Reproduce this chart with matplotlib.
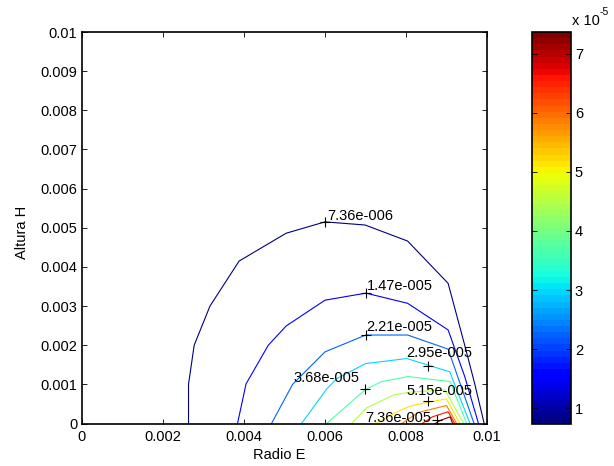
import numpy as np
import matplotlib
matplotlib.use('Agg')
import matplotlib.pyplot as plt
from matplotlib.colors import Normalize
from matplotlib.cm import ScalarMappable

plt.rcParams['font.family'] = ['Liberation Sans', 'DejaVu Sans']
plt.rcParams['font.size'] = 10.5

# contour levels (values of the field)
levels = [7.364e-6, 1.4728e-5, 2.2092e-5, 2.9456e-5, 3.682e-5,
          4.4184e-5, 5.1548e-5, 5.8912e-5, 6.6276e-5, 7.364e-5]

# contour polylines, in units of 1e-3 (Radio E, Altura H)
contour_x = [
    [2.63, 2.63, 2.77, 3.16, 3.88, 5.04, 6.00, 6.99, 8.04, 9.04, 9.46, 9.70, 9.93],
    [3.84, 4.05, 4.60, 5.04, 6.00, 7.01, 8.04, 9.04, 9.45, 9.79],
    [4.68, 5.20, 6.00, 7.01, 8.04, 9.04, 9.68],
    [5.42, 6.04, 6.30, 7.00, 8.02, 9.08, 9.58],
    [6.04, 7.00, 7.40, 8.05, 9.09, 9.50],
    [6.66, 7.03, 7.70, 8.10, 8.96, 9.42],
    [7.25, 7.90, 8.20, 9.00, 9.33],
    [7.90, 8.30, 9.00, 9.25],
    [8.40, 8.65, 9.04, 9.20],
    [8.72, 8.85, 9.09, 9.15],
]
contour_y = [
    [0.00, 1.00, 2.00, 3.00, 4.15, 4.86, 5.15, 5.07, 4.66, 3.58, 1.96, 1.00, 0.00],
    [0.00, 1.01, 2.00, 2.49, 3.15, 3.33, 3.07, 2.39, 1.20, 0.00],
    [0.00, 1.00, 1.83, 2.26, 2.26, 1.90, 0.00],
    [0.00, 0.88, 1.15, 1.53, 1.66, 1.32, 0.00],
    [0.00, 0.87, 1.07, 1.20, 1.07, 0.00],
    [0.00, 0.40, 0.73, 0.80, 0.86, 0.00],
    [0.00, 0.36, 0.47, 0.63, 0.00],
    [0.00, 0.28, 0.46, 0.00],
    [0.00, 0.17, 0.30, 0.00],
    [0.00, 0.08, 0.17, 0.00],
]

# contour labels: which level, '+' point and text anchor (units of 1e-3)
label_level = [0, 1, 2, 3, 4, 6, 9]
label_plus_x = [6.00, 7.01, 7.01, 8.54, 7.00, 8.55, 8.76]
label_plus_y = [5.15, 3.33, 2.26, 1.48, 0.87, 0.58, 0.09]
label_text_x = [6.05, 7.03, 7.03, 8.00, 5.22, 8.00, 6.99]
label_text_y = [5.21, 3.40, 2.36, 1.69, 1.05, 0.73, 0.03]

x_ticks = [0, 0.002, 0.004, 0.006, 0.008, 0.01]
x_tick_labels = ['0', '0.002', '0.004', '0.006', '0.008', '0.01']
y_ticks = [0, 0.001, 0.002, 0.003, 0.004, 0.005, 0.006, 0.007, 0.008, 0.009, 0.01]
y_tick_labels = ['0', '0.001', '0.002', '0.003', '0.004', '0.005',
                 '0.006', '0.007', '0.008', '0.009', '0.01']
cbar_ticks = [1e-5, 2e-5, 3e-5, 4e-5, 5e-5, 6e-5, 7e-5]
cbar_tick_labels = ['1', '2', '3', '4', '5', '6', '7']


def matlab_fmt(v):
    # MATLAB style: 7.36e-006
    s = '%.3g' % v
    mant, exp = s.split('e')
    sign = exp[0]
    return '%se%s%03d' % (mant, sign, int(exp[1:]))


cmap = plt.get_cmap('jet', 64)
norm = Normalize(vmin=levels[0], vmax=levels[-1])

fig = plt.figure(figsize=(6.14, 4.66), dpi=100)
ax = fig.add_axes([82 / 614, 1 - 423.5 / 466, 405 / 614, 391.5 / 466])
cax = fig.add_axes([531.7 / 614, 1 - 424 / 466, 39 / 614, 392 / 466])

for lev, xs, ys in zip(levels, contour_x, contour_y):
    ax.plot(np.array(xs) * 1e-3, np.array(ys) * 1e-3, color=cmap(norm(lev)),
            linewidth=0.8, solid_joinstyle='miter', clip_on=False)

for i, k in enumerate(label_level):
    ax.plot(label_plus_x[i] * 1e-3, label_plus_y[i] * 1e-3, marker='+',
            color='black', markersize=7, markeredgewidth=0.8)
    ax.text(label_text_x[i] * 1e-3, label_text_y[i] * 1e-3, matlab_fmt(levels[k]),
            ha='left', va='baseline', color='black')

ax.set_xlim(0, 0.01)
ax.set_ylim(0, 0.01)
ax.set_xticks(x_ticks)
ax.set_xticklabels(x_tick_labels)
ax.set_yticks(y_ticks)
ax.set_yticklabels(y_tick_labels)
ax.tick_params(direction='in', top=True, right=True, length=3.5, width=0.6)
ax.tick_params(axis='x', pad=4.5)
ax.tick_params(axis='y', pad=3.5)
for sp in ax.spines.values():
    sp.set_linewidth(1.2)

ax.set_xlabel('Radio E')
ax.xaxis.set_label_coords(0.486, -0.062)
ax.set_ylabel('Altura H')
ax.yaxis.set_label_coords(-0.131, 0.489)

sm = ScalarMappable(norm=norm, cmap=cmap)
cb = fig.colorbar(sm, cax=cax, ticks=cbar_ticks)
cb.ax.set_yticklabels(cbar_tick_labels)
cb.outline.set_linewidth(1.2)
cax.tick_params(direction='in', left=True, right=True, length=3.5, width=0.6, pad=3)
cax.text(1.026, 1.018, 'x 10', transform=cax.transAxes, ha='left', va='baseline')
cax.text(1.75, 1.043, '-5', transform=cax.transAxes, ha='left', va='baseline',
         fontsize=7.5)

fig.savefig('out.png', dpi=100)
